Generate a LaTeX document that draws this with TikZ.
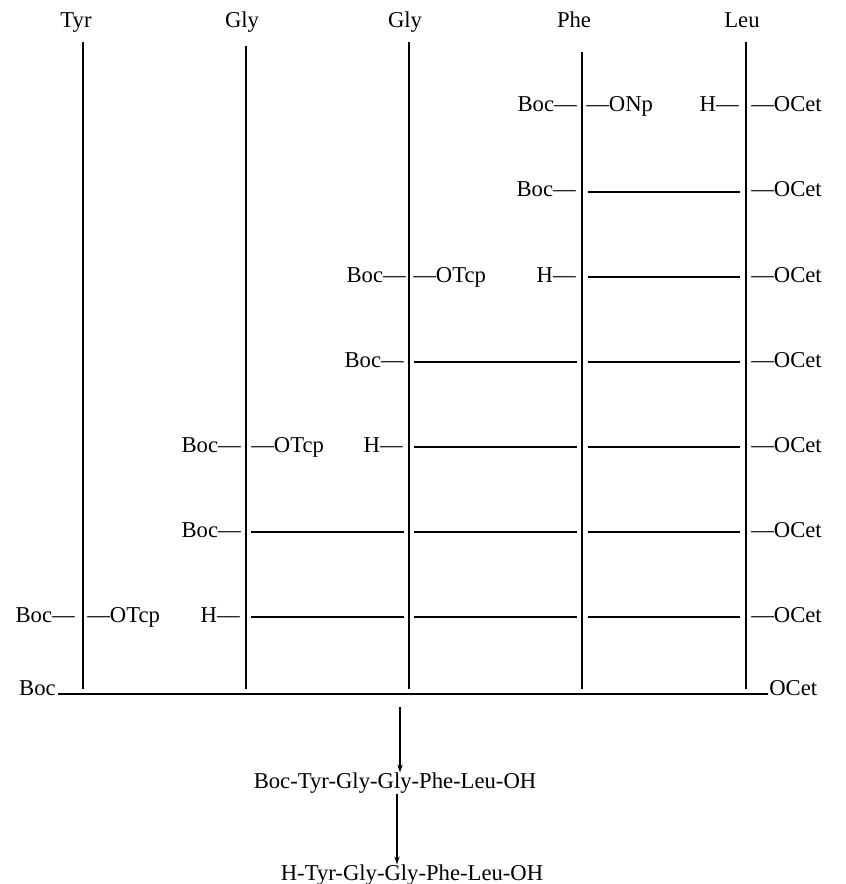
\documentclass[tikz,border=0pt]{standalone}
\usepackage{fontspec}
\setmainfont{Liberation Serif}
\usetikzlibrary{arrows.meta}

\begin{document}
\begin{tikzpicture}[x=0.75pt, y=-0.75pt, >={Stealth[length=6pt,width=4pt]},
    lbl/.style={inner sep=0pt, font=\fontsize{17}{20}\selectfont},
    res/.style={lbl, anchor=base},
    chain/.style={line width=0.9pt},
    ester/.style={line width=1.4pt},
    arr/.style={->, line width=0.8pt}]
\useasboundingbox (0,0) rectangle (845,884);

% residues and their columns
\node [res] (tyr) at (76,28) {Tyr};
\node [res] (gly1) at (242,28) {Gly};
\node [res] (gly2) at (405,28) {Gly};
\node [res] (phe) at (574,28) {Phe};
\node [res] (leu) at (742,28) {Leu};
\coordinate (tyrtop) at (83,42);   \coordinate (tyrbot) at (83,689);
\coordinate (gly1top) at (246,46); \coordinate (gly1bot) at (246,689);
\coordinate (gly2top) at (409,42); \coordinate (gly2bot) at (409,689);
\coordinate (phetop) at (582,52);  \coordinate (phebot) at (582,689);
\coordinate (leutop) at (746,42);  \coordinate (leubot) at (746,689);
\draw [chain] (tyrtop) -- (tyrbot);
\draw [chain] (gly1top) -- (gly1bot);
\draw [chain] (gly2top) -- (gly2bot);
\draw [chain] (phetop) -- (phebot);
\draw [chain] (leutop) -- (leubot);

\foreach \i in {1,...,7}
  \coordinate (r\i) at (0,{22+85*\i});

% step 1: Boc-Phe-ONp + H-Leu-OCet
\node [lbl, anchor=base east] (boc1) at ([shift={(-5,5)}]phetop |- r1) {Boc---};
\node [lbl, anchor=base west] (onp1) at ([shift={(4,5)}]phetop |- r1) {---ONp};
\node [lbl, anchor=base east] (h1) at ([shift={(-7,5)}]leutop |- r1) {H---};
\node [lbl, anchor=base west] (ocet1) at ([shift={(5,5)}]leutop |- r1) {---OCet};

% step 2
\node [lbl, anchor=base east] (boc2) at ([shift={(-6,5)}]phetop |- r2) {Boc---};
\draw [chain] ([shift={(6,0)}]phetop |- r2) -- ([shift={(-6,0)}]leutop |- r2);
\node [lbl, anchor=base west] (ocet2) at ([shift={(5,5)}]leutop |- r2) {---OCet};

% step 3: Boc-Gly-OTcp
\node [lbl, anchor=base east] (boc3) at ([shift={(-3,5)}]gly2top |- r3) {Boc---};
\node [lbl, anchor=base west] (otcp3) at ([shift={(4,5)}]gly2top |- r3) {---OTcp};
\node [lbl, anchor=base east] (h3) at ([shift={(-6,5)}]phetop |- r3) {H---};
\draw [chain] ([shift={(6,0)}]phetop |- r3) -- ([shift={(-6,0)}]leutop |- r3);
\node [lbl, anchor=base west] (ocet3) at ([shift={(5,5)}]leutop |- r3) {---OCet};

% step 4
\node [lbl, anchor=base east] (boc4) at ([shift={(-5,5)}]gly2top |- r4) {Boc---};
\draw [chain] ([shift={(5,0)}]gly2top |- r4) -- ([shift={(-5,0)}]phetop |- r4);
\draw [chain] ([shift={(6,0)}]phetop |- r4) -- ([shift={(-6,0)}]leutop |- r4);
\node [lbl, anchor=base west] (ocet4) at ([shift={(5,5)}]leutop |- r4) {---OCet};

% step 5: Boc-Gly-OTcp
\node [lbl, anchor=base east] (boc5) at ([shift={(-5,5)}]gly1top |- r5) {Boc---};
\node [lbl, anchor=base west] (otcp5) at ([shift={(5,5)}]gly1top |- r5) {---OTcp};
\node [lbl, anchor=base east] (h5) at ([shift={(-6,5)}]gly2top |- r5) {H---};
\draw [chain] ([shift={(5,0)}]gly2top |- r5) -- ([shift={(-5,0)}]phetop |- r5);
\draw [chain] ([shift={(6,0)}]phetop |- r5) -- ([shift={(-6,0)}]leutop |- r5);
\node [lbl, anchor=base west] (ocet5) at ([shift={(5,5)}]leutop |- r5) {---OCet};

% step 6
\node [lbl, anchor=base east] (boc6) at ([shift={(-5,5)}]gly1top |- r6) {Boc---};
\draw [chain] ([shift={(5,0)}]gly1top |- r6) -- ([shift={(-5,0)}]gly2top |- r6);
\draw [chain] ([shift={(5,0)}]gly2top |- r6) -- ([shift={(-5,0)}]phetop |- r6);
\draw [chain] ([shift={(6,0)}]phetop |- r6) -- ([shift={(-6,0)}]leutop |- r6);
\node [lbl, anchor=base west] (ocet6) at ([shift={(5,5)}]leutop |- r6) {---OCet};

% step 7: Boc-Tyr-OTcp
\node [lbl, anchor=base east] (boc7) at ([shift={(-8,5)}]tyrtop |- r7) {Boc---};
\node [lbl, anchor=base west] (otcp7) at ([shift={(4,5)}]tyrtop |- r7) {---OTcp};
\node [lbl, anchor=base east] (h7) at ([shift={(-6,5)}]gly1top |- r7) {H---};
\draw [chain] ([shift={(5,0)}]gly1top |- r7) -- ([shift={(-5,0)}]gly2top |- r7);
\draw [chain] ([shift={(5,0)}]gly2top |- r7) -- ([shift={(-5,0)}]phetop |- r7);
\draw [chain] ([shift={(6,0)}]phetop |- r7) -- ([shift={(-6,0)}]leutop |- r7);
\node [lbl, anchor=base west] (ocet7) at ([shift={(5,5)}]leutop |- r7) {---OCet};

% protected pentapeptide ester
\node [lbl, anchor=base east] (bocend) at (56,695) {Boc};
\node [lbl, anchor=base west] (ocetend) at (769,695) {OCet};
\draw [ester] ([shift={(2,-1)}]bocend.base east) -- ([shift={(-1,-1)}]ocetend.base west);

% deprotection
\node [lbl] (prot) at (395,783) {Boc-Tyr-Gly-Gly-Phe-Leu-OH};
\node [lbl] (free) at (412,875) {H-Tyr-Gly-Gly-Phe-Leu-OH};
\coordinate (split) at (400,707);
\draw [arr] (split) -- (split |- prot.north);
\draw [arr] ([xshift=1.5pt]prot.south) -- ([xshift=1.5pt]prot.south |- free.north);

\end{tikzpicture}
\end{document}
